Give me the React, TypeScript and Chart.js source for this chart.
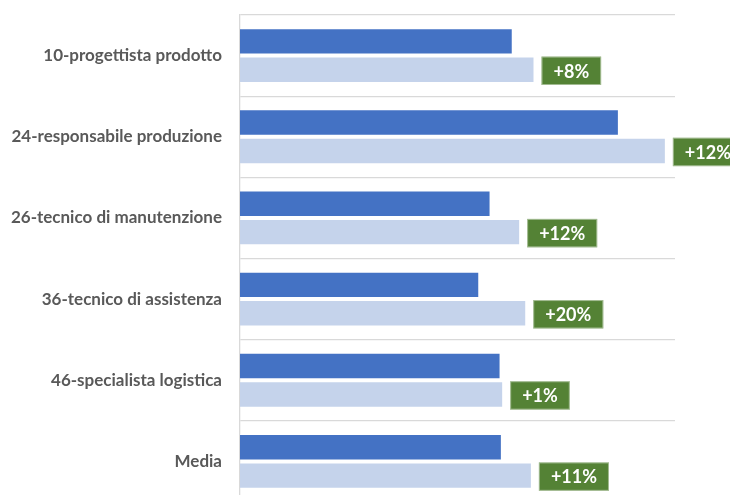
import React, { useEffect, useRef } from "react";
import { Chart, registerables } from "chart.js";

Chart.register(...registerables);

const categories = [
  "10-progettista prodotto",
  "24-responsabile produzione",
  "26-tecnico di manutenzione",
  "36-tecnico di assistenza",
  "46-specialista logistica",
  "Media",
];
const previousValues = [62.7, 87.1, 57.6, 55.0, 59.9, 60.2];
const currentValues = [67.7, 97.9, 64.4, 65.8, 60.5, 67.1];
const deltaLabels = ["+8%", "+12%", "+12%", "+20%", "+1%", "+11%"];

const FONT = "Lato, 'Noto Sans', sans-serif";

const deltaPlugin = {
  id: "deltaBoxes",
  afterDatasetsDraw(chart: any) {
    const ctx = chart.ctx;
    const meta = chart.getDatasetMeta(1);
    ctx.save();
    ctx.font = `bold 18px ${FONT}`;
    meta.data.forEach((bar: any, i: number) => {
      const { x, y, height } = bar.getProps(["x", "y", "height"], true);
      const text = deltaLabels[i];
      const tw = ctx.measureText(text).width;
      const bw = tw + 24;
      const bh = height + 2;
      const bx = x + 7;
      const by = y - bh / 2 + 1;
      ctx.fillStyle = "#548235";
      ctx.fillRect(bx, by, bw, bh);
      ctx.strokeStyle = "rgba(255,255,255,0.45)";
      ctx.lineWidth = 1;
      ctx.strokeRect(bx + 0.5, by + 0.5, bw - 1, bh - 1);
      ctx.fillStyle = "#FFFFFF";
      ctx.textAlign = "center";
      ctx.textBaseline = "middle";
      ctx.fillText(text, bx + bw / 2, by + bh / 2 + 1);
    });
    ctx.restore();
  },
};

export default function App() {
  const ref = useRef<HTMLCanvasElement | null>(null);
  useEffect(() => {
    if (!ref.current) return;
    const chart = new Chart(ref.current, {
      type: "bar",
      data: {
        labels: categories,
        datasets: [
          {
            data: previousValues,
            backgroundColor: "#4472C4",
            borderColor: "rgba(255,255,255,0.35)",
            borderWidth: 1,
            categoryPercentage: 0.7,
            barPercentage: 0.93,
          },
          {
            data: currentValues,
            backgroundColor: "#C5D3EB",
            borderColor: "rgba(255,255,255,0.35)",
            borderWidth: 1,
            categoryPercentage: 0.7,
            barPercentage: 0.93,
          },
        ],
      },
      options: {
        indexAxis: "y",
        responsive: false,
        animation: false,
        layout: { padding: { top: 15, right: 55, bottom: 18, left: 0 } },
        plugins: { legend: { display: false }, tooltip: { enabled: false } },
        scales: {
          x: { display: false, min: 0, max: 100 },
          y: {
            grid: { color: "#D9D9D9", lineWidth: 1.3, drawTicks: false, offset: true },
            border: { color: "#D9D9D9", width: 1.3 },
            ticks: {
              color: "#595959",
              padding: 18,
              font: { family: FONT, weight: "bold", size: 17 },
            },
            afterFit: (s: any) => {
              s.width = 240;
              s.paddingTop = 0;
              s.paddingBottom = 0;
            },
          },
        },
      },
      plugins: [deltaPlugin],
    } as any);
    return () => chart.destroy();
  }, []);
  return (
    <div style={{ position: "absolute", left: 0, top: 0, width: 730, height: 495, overflow: "hidden", background: "#fff" }}>
      <canvas ref={ref} width={730} height={520} />
    </div>
  );
}
